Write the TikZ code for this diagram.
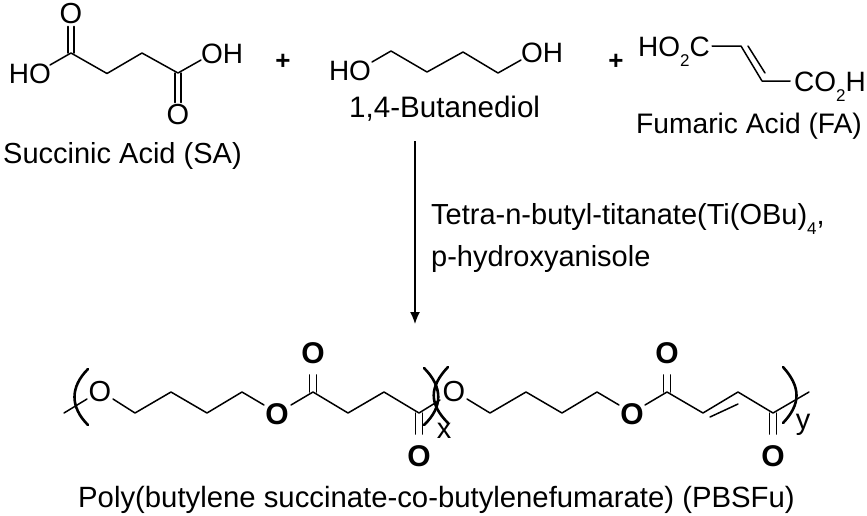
\documentclass[tikz,border=0pt]{standalone}
\usepackage{fontspec}
\usetikzlibrary{arrows.meta}
\setmainfont{Liberation Sans}
\newcommand{\lowsub}[1]{\raisebox{-0.36em}{\fontsize{17}{17}\selectfont #1}}
\tikzset{
  x=1pt,y=-1pt,
  bond/.style={line width=1.5pt,line join=round,line cap=round},
  paren/.style={line width=2.6pt,line cap=round},
  atom/.style={inner sep=0pt,font=\fontsize{28}{28}\selectfont},
  oxygen/.style={inner sep=0pt,font=\fontsize{29}{29}\selectfont},
  boldatom/.style={circle,inner sep=0pt,minimum size=27pt,font=\fontsize{30}{30}\selectfont\bfseries},
  ringatom/.style={circle,inner sep=0pt,minimum size=27pt,font=\fontsize{29}{29}\selectfont},
  caption/.style={inner sep=0pt,anchor=base west,font=\fontsize{29}{29}\selectfont},
  captionfa/.style={inner sep=0pt,anchor=base west,font=\fontsize{28.2}{28.2}\selectfont},
  captionbd/.style={inner sep=0pt,anchor=base west,font=\fontsize{29.6}{29.6}\selectfont},
  captionpb/.style={inner sep=0pt,anchor=base west,font=\fontsize{29.3}{29.3}\selectfont},
  plus/.style={inner sep=0pt,font=\fontsize{26}{26}\selectfont\bfseries},
  sublabel/.style={inner sep=0pt,font=\fontsize{29}{29}\selectfont},
}
\begin{document}
\begin{tikzpicture}
\useasboundingbox (0,0) rectangle (867,515);
% Succinic acid
\node[atom] (sho) at (30,74) {HO};
\node[atom] (soh) at (222,54) {OH};
\node[oxygen] (so1) at (71,14) {O};
\node[oxygen] (so2) at (178,115) {O};
\coordinate (s1) at (71,53);
\coordinate (s2) at (107,73.5);
\coordinate (s3) at (142,53);
\coordinate (s4) at (178,73);
\coordinate (shoe) at (50,65);
\coordinate (sohe) at (201,60);
\draw[bond] (shoe) -- (s1) -- (s2) -- (s3) -- (s4) -- (sohe);
\draw[bond] ([xshift=-3.2pt]s1) -- ([xshift=-3.2pt,yshift=-2pt]so1.south);
\draw[bond] ([xshift=3.2pt]s1) -- ([xshift=3.2pt,yshift=-2pt]so1.south);
\draw[bond] ([xshift=-3.2pt]s4) -- ([xshift=-3.2pt,yshift=2pt]so2.north);
\draw[bond] ([xshift=3.2pt]s4) -- ([xshift=3.2pt,yshift=2pt]so2.north);
\node[caption] (sa) at (3,163) {Succinic Acid (SA)};
\node[plus] (p1) at (283,62) {+};
% Butanediol
\node[atom] (bho) at (350,71) {HO};
\node[atom] (boh) at (542,53) {OH};
\coordinate (bhoe) at (372,62);
\coordinate (b1) at (391,51);
\coordinate (b2) at (427,72);
\coordinate (b3) at (463,52);
\coordinate (b4) at (498,73);
\coordinate (bohe) at (521,60);
\draw[bond] (bhoe) -- (b1) -- (b2) -- (b3) -- (b4) -- (bohe);
\node[captionbd] (bd) at (349,117) {1,4-Butanediol};
\node[plus] (p2) at (616,62) {+};
% Fumaric acid
\node[atom,anchor=base west] (fa1) at (638,56) {HO\lowsub{2}C};
\node[atom,anchor=base west] (fa2) at (794,91) {CO\lowsub{2}H};
\coordinate (fae1) at (712,46);
\coordinate (f1) at (741,46);
\coordinate (f2) at (762,81);
\coordinate (fae2) at (790,81);
\coordinate (f1i) at (748,46);
\coordinate (f2i) at (765,73);
\draw[bond] (fae1) -- (f1) -- (f2) -- (fae2);
\draw[bond] (f1i) -- (f2i);
\node[captionfa] (fa) at (636,133) {Fumaric Acid (FA)};
% Reaction arrow
\coordinate (ar1) at (415,141);
\coordinate (ar2) at (415,324);
\draw[line width=1.4pt,-{Latex[length=12pt,width=10pt]}] (ar1) -- (ar2);
\node[caption] (c1) at (431,224) {Tetra-n-butyl-titanate(Ti(OBu)\lowsub{4},};
\node[caption] (c2) at (431,266) {p-hydroxyanisole};
% Polymer
\node[ringatom] (po1) at (100,392) {O};
\node[boldatom] (po2) at (277,414) {O};
\node[boldatom] (po3) at (313,353) {O};
\node[boldatom] (po4) at (419,456) {O};
\node[ringatom] (po5) at (454,392) {O};
\node[boldatom] (po6) at (632,414) {O};
\node[boldatom] (po7) at (667,353) {O};
\node[boldatom] (po8) at (773,456) {O};
\coordinate (e0) at (64,413);
\coordinate (e1) at (87,399);
\coordinate (a1) at (113,399);
\coordinate (a2) at (135,413);
\coordinate (a3) at (171,392);
\coordinate (a4) at (207,413);
\coordinate (a5) at (242,392);
\coordinate (a6) at (264,405);
\coordinate (a7) at (291,405);
\coordinate (a8) at (313,392);
\coordinate (a9) at (348,413);
\coordinate (a10) at (384,392);
\coordinate (a11) at (419,413);
\coordinate (a12) at (440,400);
\coordinate (d1) at (467,399);
\coordinate (d2) at (490,413);
\coordinate (d3) at (526,392);
\coordinate (d4) at (562,413);
\coordinate (d5) at (597,392);
\coordinate (d6) at (619,405);
\coordinate (d7) at (645,405);
\coordinate (d8) at (667,392);
\coordinate (d9) at (703,413);
\coordinate (d10) at (738,392);
\coordinate (d11) at (773,413);
\coordinate (d12) at (809,392);
\coordinate (di1) at (710,417);
\coordinate (di2) at (738,404);
\draw[bond] (e0) -- (e1);
\draw[bond] (a1) -- (a2) -- (a3) -- (a4) -- (a5) -- (a6);
\draw[bond] (a7) -- (a8) -- (a9) -- (a10) -- (a11) -- (a12);
\draw[bond] (d1) -- (d2) -- (d3) -- (d4) -- (d5) -- (d6);
\draw[bond] (d7) -- (d8) -- (d9) -- (d10) -- (d11) -- (d12);
\draw[bond] (di1) -- (di2);
\draw[bond] ([xshift=-3.3pt]a8) -- ([xshift=-3.3pt,yshift=-6pt]po3.south);
\draw[bond] ([xshift=3.3pt]a8) -- ([xshift=3.3pt,yshift=-6pt]po3.south);
\draw[bond] ([xshift=-3.3pt]a11) -- ([xshift=-3.3pt,yshift=6pt]po4.north);
\draw[bond] ([xshift=3.3pt]a11) -- ([xshift=3.3pt,yshift=6pt]po4.north);
\draw[bond] ([xshift=-3.3pt]d8) -- ([xshift=-3.3pt,yshift=-6pt]po7.south);
\draw[bond] ([xshift=3.3pt]d8) -- ([xshift=3.3pt,yshift=-6pt]po7.south);
\draw[bond] ([xshift=-3.3pt]d11) -- ([xshift=-3.3pt,yshift=6pt]po8.north);
\draw[bond] ([xshift=3.3pt]d11) -- ([xshift=3.3pt,yshift=6pt]po8.north);
% Brackets
\draw[paren] (88,369) .. controls (70,387) and (70,407) .. (88,425);
\draw[paren] (424,368) .. controls (443,387) and (443,407) .. (424,425);
\draw[paren] (448,367) .. controls (429,387) and (429,404) .. (448,423);
\draw[paren] (783,367) .. controls (801,387) and (801,404) .. (783,423);
\node[sublabel] (lx) at (444,431) {x};
\node[sublabel] (ly) at (803,425) {y};
\node[captionpb] (pb) at (78,507) {Poly(butylene succinate-co-butylenefumarate) (PBSFu)};
\end{tikzpicture}
\end{document}
